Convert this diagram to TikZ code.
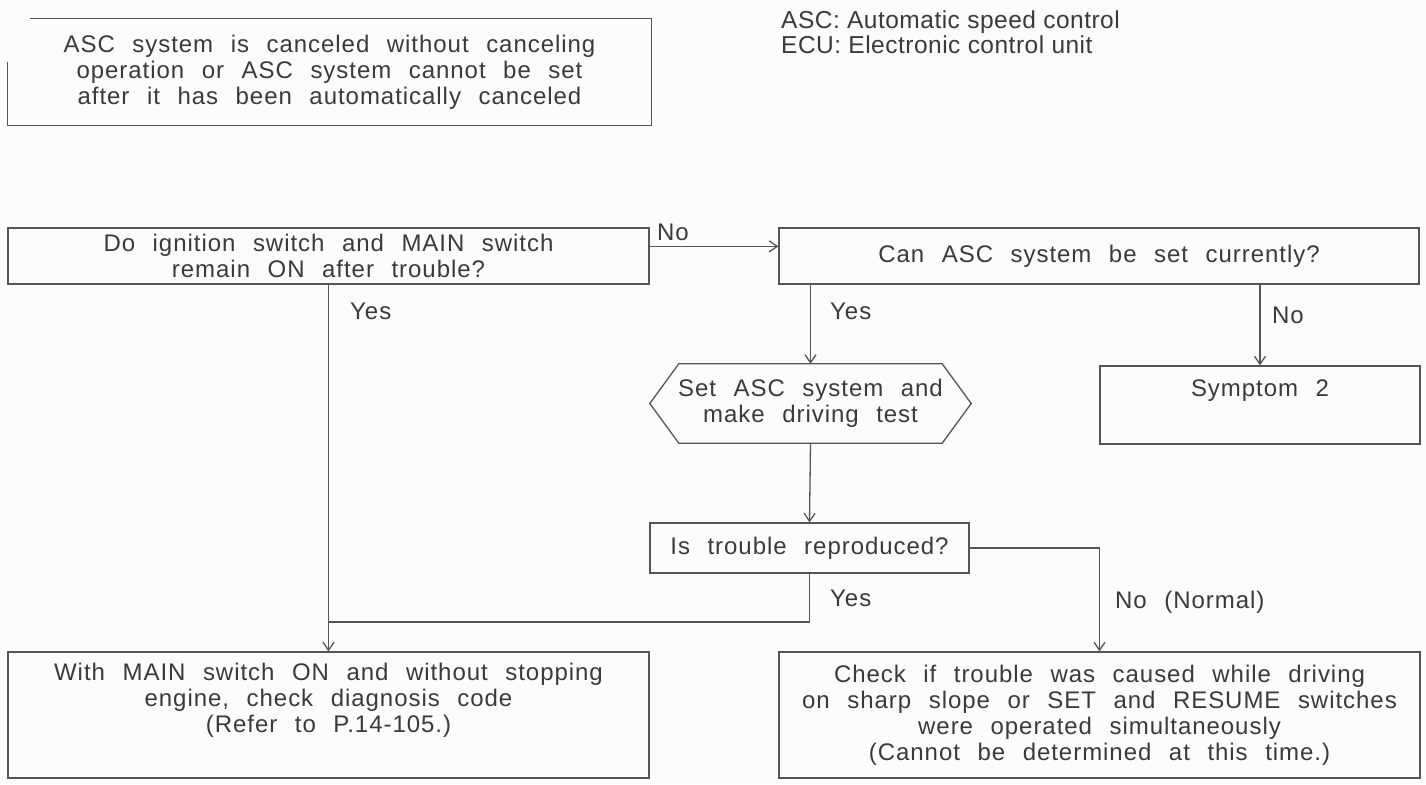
\documentclass[tikz,border=0pt]{standalone}
\usepackage{fontspec}
\setmainfont{Liberation Sans}[LetterSpace=4,WordSpace=2.3]
\newfontfamily\legendfont{Liberation Sans}[LetterSpace=2]
\usetikzlibrary{arrows.meta}
\definecolor{ink}{HTML}{3A3A3A}
\definecolor{rule}{HTML}{555555}
\definecolor{paper}{HTML}{FCFCFC}
\begin{document}
\begin{tikzpicture}[x=1pt,y=-1pt,
  every node/.style={text=ink, font=\fontsize{24}{26}\selectfont, inner sep=0pt},
  box/.style={draw=rule, line width=1.3pt, align=center},
  conn/.style={draw=rule, line width=1.3pt},
  arr/.style={conn, -{Straight Barb[length=8pt,width=11pt]}},
  lbl/.style={anchor=west}]
\useasboundingbox (0,0) rectangle (1426,784);
\fill[paper] (0,0) rectangle (1426,784);

% heading box (its left edge is only partly printed)
\node (head) [align=center, minimum width=643pt, minimum height=107pt]
  at (329.5,72) {ASC system is canceled without canceling\\operation or ASC system cannot be set\\after it has been automatically canceled};
\draw[conn] ([xshift=22pt]head.north west) -- (head.north east) -- (head.south east)
  -- (head.south west) -- ([yshift=64pt]head.south west);

% abbreviations
\node (legend) [anchor=west, align=left, font=\legendfont\fontsize{24.5}{25}\selectfont]
  at (781,32.5) {ASC: Automatic speed control\\ECU: Electronic control unit};

% decision and action boxes
\node (ign) [box, minimum width=641pt, minimum height=56pt] at (328.5,256)
  {Do ignition switch and MAIN switch\\remain ON after trouble?};
\node (canset) [box, minimum width=640pt, minimum height=56pt] at (1099,256)
  {Can ASC system be set currently?};
\node (test) [align=center, minimum width=321pt, minimum height=79pt] at (810.5,403.5)
  {Set ASC system and\\make driving test};
\draw[conn] (test.west) -- ([xshift=29pt]test.north west) -- ([xshift=-29pt]test.north east)
  -- (test.east) -- ([xshift=-29pt]test.south east) -- ([xshift=29pt]test.south west) -- cycle;
\node (sym) [box, minimum width=320pt, minimum height=78pt] at (1260,405)
  {Symptom 2\\\strut};
\node (repro) [box, minimum width=319pt, minimum height=50pt] at (809.5,548)
  {Is trouble reproduced?};
\node (diag) [box, minimum width=641pt, minimum height=126pt] at (328.5,715)
  {With MAIN switch ON and without stopping\\engine, check diagnosis code\\(Refer to P.14-105.)\\\strut};
\node (slope) [box, minimum width=641pt, minimum height=126pt] at (1099.5,715)
  {Check if trouble was caused while driving\\on sharp slope or SET and RESUME switches\\were operated simultaneously\\(Cannot be determined at this time.)};

% connectors
\coordinate (join) at (ign.south |- 0,622);
\draw[arr] ([yshift=-19pt]ign.north east) -- ([yshift=-19pt]canset.north west);
\draw[arr] (ign.south) -- (diag.north);
\draw[arr] (test.north |- canset.south) -- (test.north);
\draw[arr] (sym.north |- canset.south) -- (sym.north);
\draw[arr] (test.south) -- (repro.north);
\draw[conn] (repro.south) |- (join);
\draw[arr] (repro.east) -| (slope.north);

% branch labels
\node (l1) [lbl] at (657,232) {No};
\node (l2) [lbl] at (350,311) {Yes};
\node (l3) [lbl] at (830,311) {Yes};
\node (l4) [lbl] at (1272,315) {No};
\node (l5) [lbl] at (830,598) {Yes};
\node (l6) [lbl] at (1115,602) {No (Normal)};
\end{tikzpicture}
\end{document}
